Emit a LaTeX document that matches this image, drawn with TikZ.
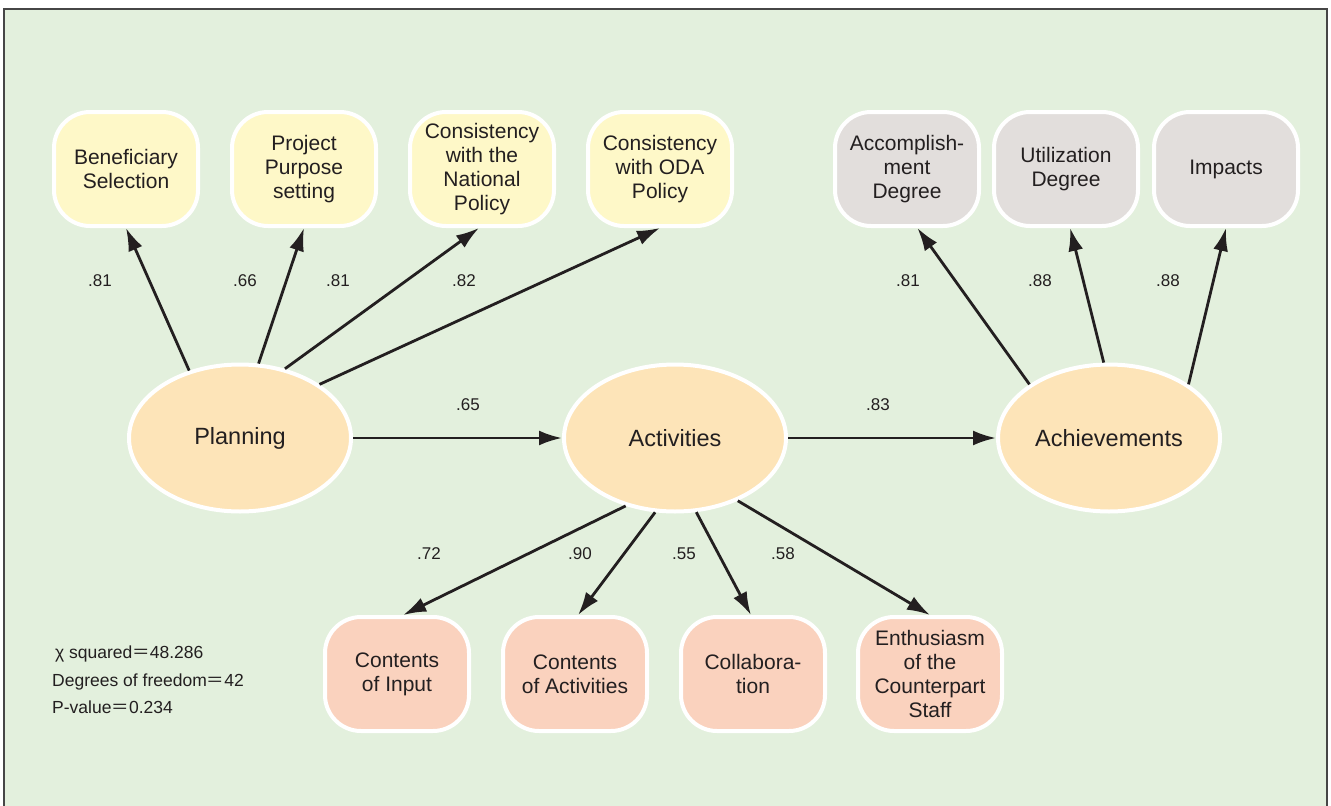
\documentclass[tikz,border=0pt]{standalone}
\usepackage{fontspec}
\setmainfont{Liberation Sans}
\newfontfamily\cjk{Noto Sans CJK JP}
\usetikzlibrary{shapes, arrows.meta}

\definecolor{bggreen}{RGB}{227,240,221}
\definecolor{framegray}{RGB}{70,70,70}
\definecolor{inkblack}{RGB}{35,31,32}
\definecolor{planfill}{RGB}{254,248,200}
\definecolor{resultfill}{RGB}{226,222,220}
\definecolor{latentfill}{RGB}{253,228,184}
\definecolor{activityfill}{RGB}{250,210,190}

\begin{document}
\begin{tikzpicture}[x=1pt, y=-1pt]

\tikzstyle{connector} = [draw, inkblack, line width=2.8pt, -{Latex[length=23pt, width=15pt]}]
\tikzstyle{latent} = [ellipse, draw=white, line width=4pt, fill=latentfill, text=inkblack, minimum width=222pt, minimum height=147pt, font=\fontsize{23.5}{28}\selectfont]
\tikzstyle{item} = [rectangle, rounded corners=36pt, draw=white, line width=4pt, text=inkblack, align=center, minimum width=144pt, minimum height=114pt, inner sep=2pt, font=\fontsize{21}{24}\selectfont]
\tikzstyle{planitem} = [item, fill=planfill]
\tikzstyle{resultitem} = [item, fill=resultfill]
\tikzstyle{activityitem} = [item, fill=activityfill]
\tikzstyle{coef} = [text=inkblack, font=\fontsize{17}{20}\selectfont]

\useasboundingbox (0,0) rectangle (1331,806);
\fill[bggreen] (4,9) rectangle (1327,806);
\draw[framegray, line width=2pt] (4,806) -- (4,9) -- (1327,9) -- (1327,806);

% latent variables
\node[latent] at (240,438) (planning) {Planning};
\node[latent] at (675,438) (activities) {Activities};
\node[latent] at (1109,438) (achievements) {Achievements};

% planning indicators
\node[planitem] at (126,169) (benef) {Beneficiary\\Selection};
\node[planitem] at (304,169) (purpose) {Project\\Purpose\\setting};
\node[planitem] at (482,169) (national) {Consistency\\with the\\National\\Policy};
\node[planitem] at (660,169) (oda) {Consistency\\with ODA\\Policy};

% achievement indicators
\node[resultitem] at (907,169) (accomp) {Accomplish-\\ment\\Degree};
\node[resultitem] at (1066,169) (util) {Utilization\\Degree};
\node[resultitem] at (1226,169) (impacts) {Impacts};

% activity indicators
\node[activityitem] at (397,674) (input) {Contents\\of Input};
\node[activityitem] at (575,674) (contact) {Contents\\of Activities};
\node[activityitem] at (753,674) (collab) {Collabora-\\tion};
\node[activityitem] at (930,674) (enthus) {Enthusiasm\\of the\\Counterpart\\Staff};

% coefficients
\node[coef] at (100,281) (c_benef) {.81};
\node[coef] at (245,281) (c_purpose) {.66};
\node[coef] at (338,281) (c_national) {.81};
\node[coef] at (464,281) (c_oda) {.82};
\node[coef] at (908,281) (c_accomp) {.81};
\node[coef] at (1040,281) (c_util) {.88};
\node[coef] at (1168,281) (c_impacts) {.88};
\node[coef] at (468,405) (c_plan) {.65};
\node[coef] at (878,405) (c_act) {.83};
\node[coef] at (429,554) (c_input) {.72};
\node[coef] at (580,554) (c_contact) {.90};
\node[coef] at (684,554) (c_collab) {.55};
\node[coef] at (783,554) (c_enthus) {.58};

\node[anchor=west, align=left, inkblack, inner sep=0pt, font=\fontsize{17.5}{27.5}\selectfont] at (52,680) (stats)
  {\,χ squared{\cjk ＝}48.286\\Degrees of freedom{\cjk ＝}42\\P-value{\cjk ＝}0.234};

\path [connector] (planning.127) -- (benef.south);
\path [connector] (planning.76) -- (purpose.south);
\path [connector] (planning.57) -- (national.-93);
\path [connector] (planning.34) -- (oda.south);
\path [connector] (planning) -- (activities);
\path [connector] (activities) -- (achievements);
\path [connector] (activities.234) -- (input.84);
\path [connector] (activities.255) -- (contact.87);
\path [connector] (activities.286) -- (collab.92);
\path [connector] (activities.315) -- (enthus.north);
\path [connector] (achievements.146) -- (accomp.-80);
\path [connector] (achievements.94) -- (util.-86);
\path [connector] (achievements.34) -- (impacts.south);

\end{tikzpicture}
\end{document}
